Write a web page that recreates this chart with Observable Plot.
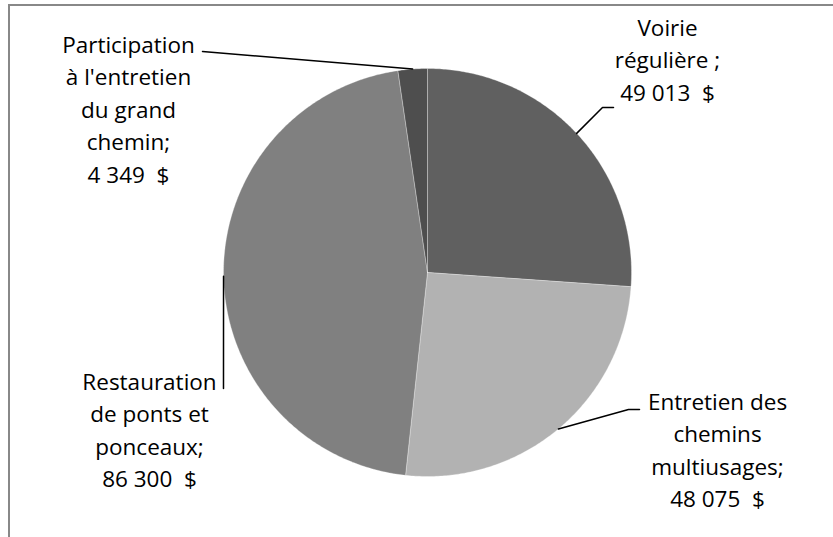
<!DOCTYPE html>
<html>
<head>
<meta charset="utf-8">
<script src="https://cdn.jsdelivr.net/npm/d3@7"></script>
<script src="https://cdn.jsdelivr.net/npm/@observablehq/plot@0.6"></script>
<style>
  html, body { margin: 0; padding: 0; background: #fff; }
  #wrap { position: relative; width: 833px; height: 537px; overflow: hidden; }
  #border { position: absolute; left: 8px; top: 4px; right: -10px; bottom: -10px;
            border-top: 2px solid #888; border-left: 2px solid #888; }
  #chart { position: absolute; left: 0; top: 0; }
</style>
</head>
<body>
<div id="wrap"><div id="border"></div><div id="chart"></div></div>
<script>
// ---- data ----
const categories = [
  "Voirie régulière",
  "Entretien des chemins multiusages",
  "Restauration de ponts et ponceaux",
  "Participation à l'entretien du grand chemin"
];
const values = [49013, 48075, 86300, 4349];
const labelLines = [
  ["Voirie", "régulière ;"],
  ["Entretien des", "chemins", "multiusages;"],
  ["Restauration", "de ponts et", "ponceaux;"],
  ["Participation", "à l'entretien", "du grand", "chemin;"]
];
const colors = ["#606060", "#b2b2b2", "#808080", "#4e4e4e"];

// ---- layout ----
const W = 833, H = 537;
const cx = 427, cy = 272, r = 204;
const fontSize = 22.5, lineH = 32.5;
// label block: centre x, first-line centre y; leader: start points before the arc point
const layout = [
  { lx: 667, ly: 28,  leader: [[613, 107], [602, 107]] },
  { lx: 717, ly: 402, leader: [[639, 409], [628, 409]] },
  { lx: 149, ly: 382, leader: [[223, 388]] },
  { lx: 128, ly: 45,  leader: [[202, 51]] }
];

const fr = d3.formatLocale({decimal: ",", thousands: "\u00a0", grouping: [3], currency: ["", "  $"]});
const fmt = fr.format(",d");

const arcs = d3.pie().sort(null).value(d => d)(values);

// slice polygons
const slicePts = [];
arcs.forEach((a, i) => {
  const name = categories[i];
  slicePts.push({name, x: cx, y: cy});
  const n = Math.max(4, Math.ceil((a.endAngle - a.startAngle) / 0.01));
  for (let k = 0; k <= n; k++) {
    const t = a.startAngle + (a.endAngle - a.startAngle) * k / n;
    slicePts.push({name, x: cx + r * Math.sin(t), y: cy - r * Math.cos(t)});
  }
  slicePts.push({name, x: cx, y: cy});
});

// leader lines
const leaderPts = [];
arcs.forEach((a, i) => {
  const name = categories[i];
  const m = (a.startAngle + a.endAngle) / 2;
  layout[i].leader.forEach(([x, y]) => leaderPts.push({name, x, y}));
  leaderPts.push({name, x: cx + r * Math.sin(m), y: cy - r * Math.cos(m)});
});

// labels
const labels = categories.map((c, i) => ({
  name: c,
  x: layout[i].lx,
  y: layout[i].ly - 16,
  text: labelLines[i].join("\n") + "\n" + fmt(values[i]) + "  $"
}));

const chart = Plot.plot({
  width: W,
  height: H,
  margin: 0,
  x: {domain: [0, W], range: [0, W], axis: null},
  y: {domain: [0, H], range: [0, H], axis: null},
  color: {domain: categories, range: colors},
  style: {background: "transparent", fontFamily: "'Open Sans', Lato, sans-serif"},
  marks: [
    Plot.line(slicePts, {x: "x", y: "y", z: "name", fill: "name", stroke: "#ffffff", strokeWidth: 0.6, strokeOpacity: 0.5, curve: "linear"}),
    Plot.line(leaderPts, {x: "x", y: "y", z: "name", stroke: "#000", strokeWidth: 1.5}),
    Plot.text(labels, {
      x: "x", y: "y", text: "text",
      textAnchor: "middle", lineAnchor: "top",
      lineHeight: lineH / fontSize,
      fontSize, fill: "#000"
    })
  ]
});
document.getElementById("chart").appendChild(chart);
</script>
</body>
</html>
